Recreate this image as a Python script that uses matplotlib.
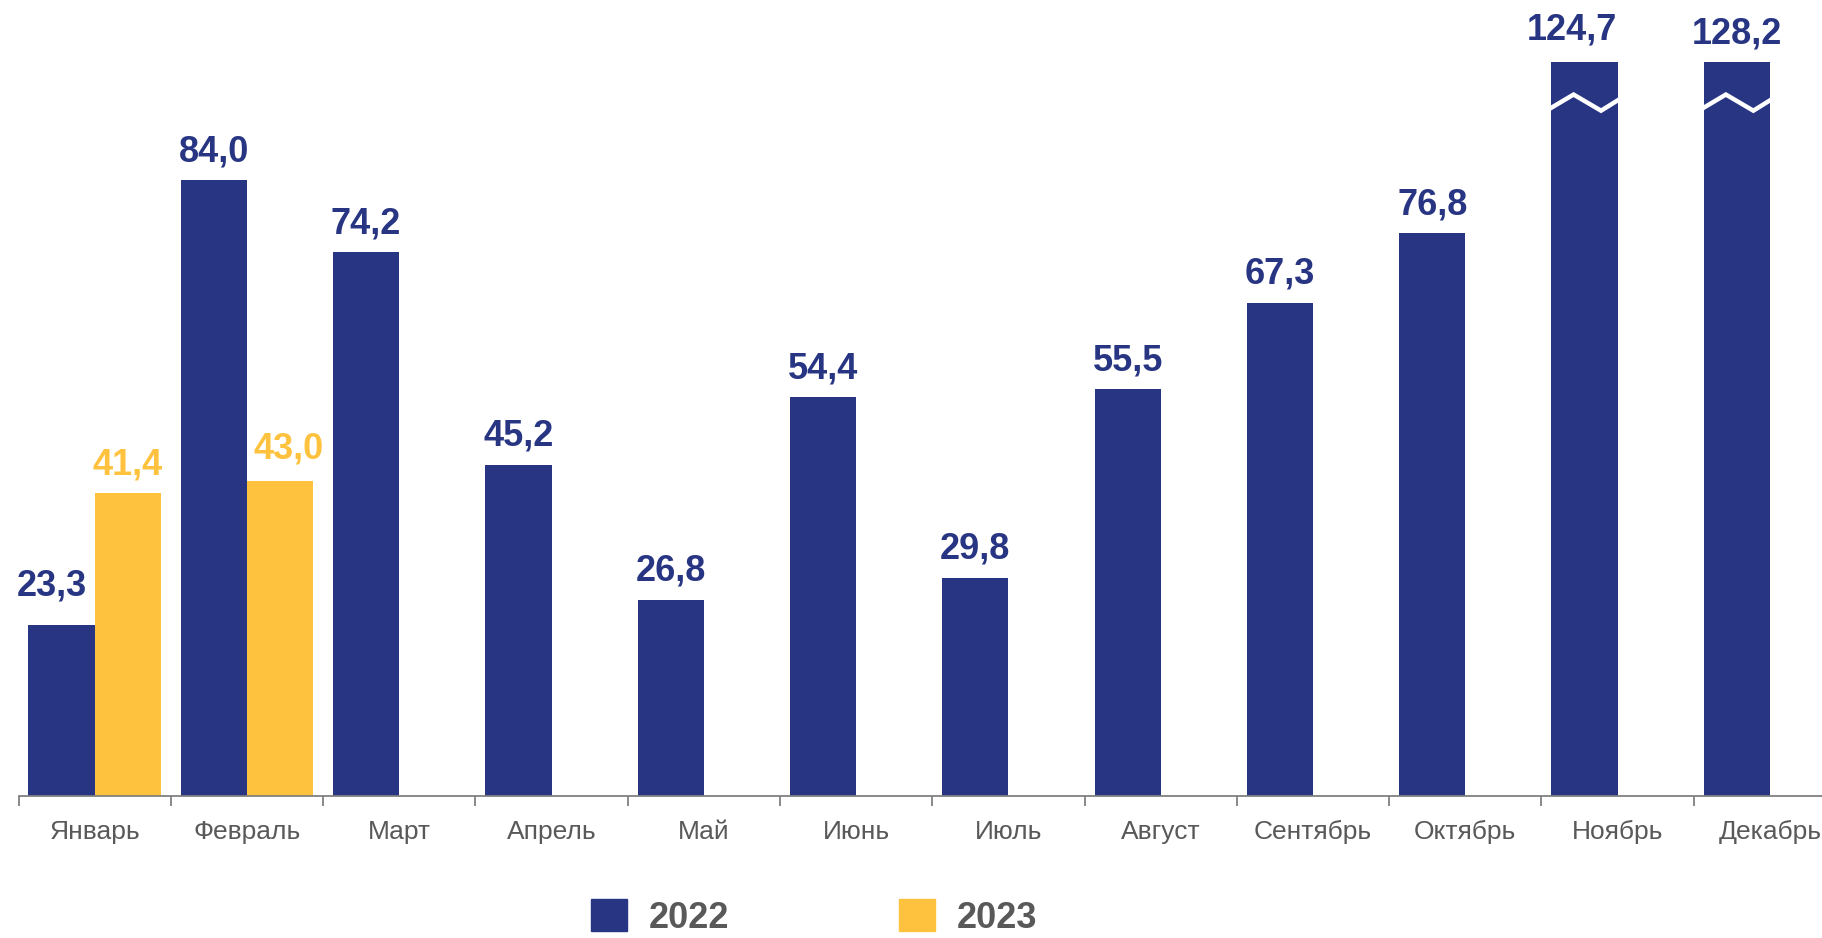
import matplotlib.pyplot as plt
import matplotlib.patches as mpatches
import numpy as np

months = ['Январь', 'Февраль', 'Март', 'Апрель', 'Май', 'Июнь',
          'Июль', 'Август', 'Сентябрь', 'Октябрь', 'Ноябрь', 'Декабрь']
values_2022 = [23.3, 84.0, 74.2, 45.2, 26.8, 54.4, 29.8, 55.5, 67.3, 76.8, 124.7, 128.2]
values_2023 = [41.4, 43.0]
series_names = ['2022', '2023']

NAVY = '#283583'
YELLOW = '#FFC23E'
GREY = '#595959'
BREAK_AT = 100.2   # bars above this are drawn cut with a break mark

# label offsets in points (dx, dy) where the default would collide
LABEL_DY = 13.7
nudge_2022 = {0: (-7, 21.6), 10: (-9.4, 16), 11: (0, 13)}
nudge_2023 = {0: (0, 13), 1: (6, 16)}

plt.rcParams['font.family'] = ['Liberation Sans', 'DejaVu Sans']

fig = plt.figure(figsize=(18.22, 9.38), dpi=100)
ax = fig.add_axes([0.0102, 0.1514, 1.003, 0.8486])

x = np.arange(len(months))
w = 0.435


def fmt(v):
    return f'{v:.1f}'.replace('.', ',')


shown_2022 = [min(v, BREAK_AT) for v in values_2022]
bars22 = ax.bar(x - w, shown_2022, width=w, align='edge', color=NAVY)
x23 = x[:len(values_2023)]
bars23 = ax.bar(x23, values_2023, width=w, align='edge', color=YELLOW)

for i, (b, v) in enumerate(zip(bars22, values_2022)):
    dx, dy = nudge_2022.get(i, (0, LABEL_DY))
    ax.annotate(fmt(v), (b.get_x() + b.get_width() / 2, b.get_height()),
                xytext=(dx, dy), textcoords='offset points', ha='center', va='baseline',
                fontsize=26, fontweight='bold', color=NAVY)
    if v > BREAK_AT:
        # white zigzag break mark
        bx = b.get_x() + np.array([0.0, 0.335, 0.75, 1.0]) * b.get_width()
        by = b.get_height() - np.array([6.3, 4.5, 6.7, 5.3])
        ax.plot(bx, by, color='white', lw=3.2, solid_joinstyle='miter')

for i, (b, v) in enumerate(zip(bars23, values_2023)):
    dx, dy = nudge_2023.get(i, (0, LABEL_DY))
    ax.annotate(fmt(v), (b.get_x() + b.get_width() / 2, b.get_height()),
                xytext=(dx, dy), textcoords='offset points', ha='center', va='baseline',
                fontsize=26, fontweight='bold', color=YELLOW)

ax.set_xlim(-0.5, len(months) - 0.5)
ax.set_ylim(0, 108.6)

for s in ['top', 'right', 'left']:
    ax.spines[s].set_visible(False)
ax.spines['bottom'].set_color('#808080')
ax.spines['bottom'].set_linewidth(1.3)
ax.set_yticks([])

ax.set_xticks(x)
ax.set_xticklabels(months, fontsize=19, color=GREY)
ax.tick_params(axis='x', which='major', length=0, pad=17)
ax.set_xticks(np.arange(len(months) + 1) - 0.5, minor=True)
ax.tick_params(axis='x', which='minor', length=7, width=1.3, color='#808080')

handles = [mpatches.Patch(color=NAVY, label=series_names[0]),
           mpatches.Patch(color=YELLOW, label=series_names[1])]
leg = fig.legend(handles=handles, loc='center', bbox_to_anchor=(0.447, 0.022), ncol=2,
                 frameon=False, prop={'size': 26, 'weight': 'bold'},
                 handlelength=1.0, handleheight=1.0, handletextpad=0.6, columnspacing=4.7)
for t in leg.get_texts():
    t.set_color(GREY)

fig.savefig('out.png', dpi=100)
